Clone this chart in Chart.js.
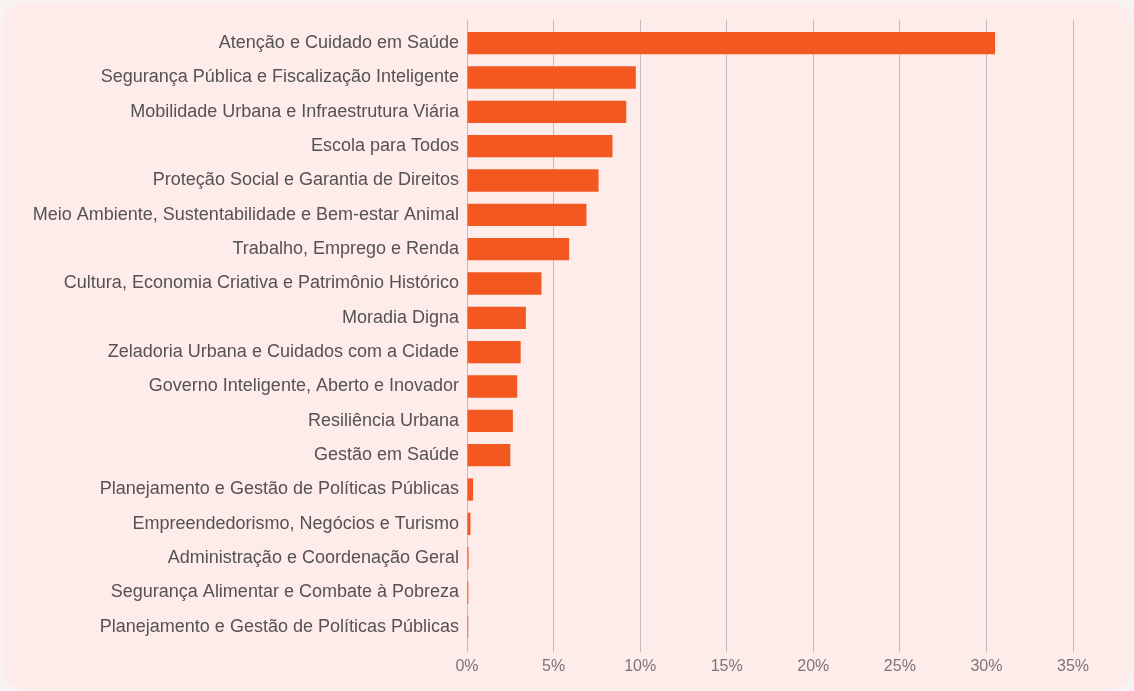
<!DOCTYPE html>
<html>
<head>
<meta charset="utf-8">
<script src="https://cdn.jsdelivr.net/npm/chart.js@4.4.0/dist/chart.umd.min.js"></script>
<style>
  html, body { margin: 0; padding: 0; background: #f7f3f3; }
  #card {
    position: absolute; left: 2px; top: 2px; width: 1130px; height: 687px;
    background: #fdecea; border-radius: 22px;
  }
  #wrap { position: absolute; left: 0; top: 0; width: 1134px; height: 691px; }
</style>
</head>
<body>
<div id="card"></div>
<div id="wrap"><canvas id="chart" width="1134" height="691"></canvas></div>
<script>
// categorias (eixos) e percentuais
const categories = [
    'Atenção e Cuidado em Saúde',
    'Segurança Pública e Fiscalização Inteligente',
    'Mobilidade Urbana e Infraestrutura Viária',
    'Escola para Todos',
    'Proteção Social e Garantia de Direitos',
    'Meio Ambiente, Sustentabilidade e Bem-estar Animal',
    'Trabalho, Emprego e Renda',
    'Cultura, Economia Criativa e Patrimônio Histórico',
    'Moradia Digna',
    'Zeladoria Urbana e Cuidados com a Cidade',
    'Governo Inteligente, Aberto e Inovador',
    'Resiliência Urbana',
    'Gestão em Saúde',
    'Planejamento e Gestão de Políticas Públicas',
    'Empreendedorismo, Negócios e Turismo',
    'Administração e Coordenação Geral',
    'Segurança Alimentar e Combate à Pobreza',
    'Planejamento e Gestão de Políticas Públicas'
];
const shares = [30.5, 9.75, 9.2, 8.4, 7.6, 6.9, 5.9, 4.3, 3.4, 3.1, 2.9, 2.65, 2.5, 0.35, 0.2, 0.09, 0.08, 0.07];
const xTicks = [0, 5, 10, 15, 20, 25, 30, 35];

const barColor = '#f2581f';

// linhas de grade sobem um pouco acima da área do gráfico
const gridTop = {
    id: 'gridTop',
    beforeDatasetsDraw(chart) {
        const c = chart.ctx, x = chart.scales.x, top = chart.chartArea.top;
        c.save();
        c.strokeStyle = '#c4bcbc';
        c.lineWidth = 1;
        xTicks.forEach(v => {
            const px = Math.round(x.getPixelForValue(v) - 0.5) + 0.5;
            c.beginPath();
            c.moveTo(px, top - 6);
            c.lineTo(px, top);
            c.stroke();
        });
        c.restore();
    }
};

const ctx = document.getElementById('chart');
new Chart(ctx, {
    type: 'bar',
    data: {
        labels: categories,
        datasets: [{
            data: shares,
            backgroundColor: barColor,
            borderWidth: 0,
            barPercentage: 0.65,
            categoryPercentage: 1
        }]
    },
    options: {
        indexAxis: 'y',
        responsive: false,
        animation: false,
        layout: { padding: { top: 26, right: 61, bottom: 7, left: 0 } },
        plugins: { legend: { display: false }, tooltip: { enabled: false } },
        scales: {
            x: {
                min: 0,
                max: 35,
                afterBuildTicks: (scale) => { scale.ticks = xTicks.map(v => ({ value: v })); },
                afterFit: (scale) => { scale.height = 40; },
                border: { display: false },
                grid: { color: '#c4bcbc', lineWidth: 1, tickLength: 8, drawTicks: true },
                ticks: {
                    color: '#7a7676',
                    padding: 5,
                    font: { family: 'Liberation Sans, Arial, sans-serif', size: 16 },
                    callback: (v) => v + '%'
                }
            },
            y: {
                afterFit: (scale) => { scale.width = 467; },
                border: { display: false },
                grid: { display: false, drawTicks: false },
                ticks: {
                    color: '#555252',
                    padding: 8,
                    autoSkip: false,
                    font: { family: 'Liberation Sans, Arial, sans-serif', size: 18 }
                }
            }
        }
    },
    plugins: [gridTop]
});
</script>
</body>
</html>
